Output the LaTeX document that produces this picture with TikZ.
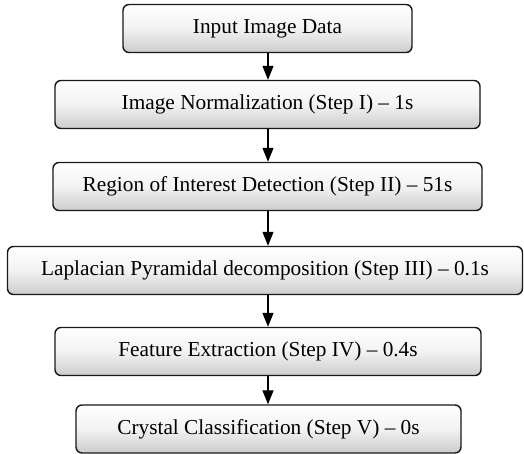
\documentclass[tikz,border=0pt]{standalone}
\usepackage{fontspec}
\setmainfont{Liberation Serif}
\usetikzlibrary{arrows.meta}
\tikzset{
  stage/.style={draw=black!90, line width=1.4pt, rounded corners=6pt,
    top color=white, bottom color=black!20, middle color=black!5,
    minimum height=48pt, inner sep=0pt,
    font=\fontsize{21.3}{25}\selectfont},
  flow/.style={line width=1.2pt, -{Triangle[length=14pt,width=11pt]}}
}
\begin{document}
\begin{tikzpicture}[x=1pt,y=-1pt]
  \useasboundingbox (0,0) rectangle (524,454);
  \node[stage, minimum width=289pt] (input) at (267.5,28.5) {Input Image Data};
  \node[stage, minimum width=425pt] (norm) at (267.5,104.5) {Image Normalization (Step I) -- 1s};
  \node[stage, minimum width=429pt] (roi) at (267.5,186.5) {Region of Interest Detection (Step II) -- 51s};
  \node[stage, minimum width=515pt] (lap) at (265,270.5) {Laplacian Pyramidal decomposition (Step III) -- 0.1s};
  \node[stage, minimum width=426pt] (feat) at (268,351.5) {Feature Extraction (Step IV) -- 0.4s};
  \node[stage, minimum width=385pt] (cls) at (268.5,429) {Crystal Classification (Step V) -- 0s};
  \coordinate (ax) at (268,0);
  \foreach \a/\b in {input/norm, norm/roi, roi/lap, lap/feat, feat/cls}
    \draw[flow] (ax |- \a.south) -- (ax |- \b.north);
\end{tikzpicture}
\end{document}
